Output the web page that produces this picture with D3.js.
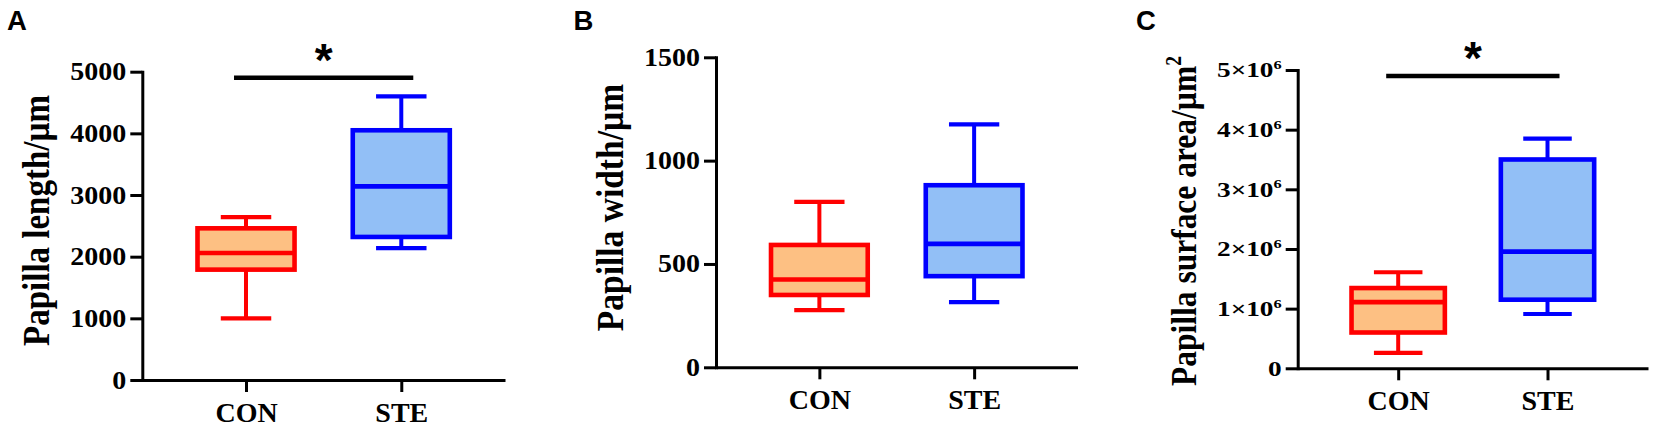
<!DOCTYPE html>
<html><head><meta charset="utf-8">
<script src="https://cdn.jsdelivr.net/npm/d3@7"></script>
<style>body{margin:0;background:#fff}</style>
</head><body><svg id="chart" width="1654" height="431"></svg>
<script>
// ---- data ----
const categories = ["CON", "STE"];
// box stats: [min, Q1, median, Q3, max]
const lengthCON = [1000, 1790, 2060, 2460, 2640];
const lengthSTE = [2140, 2320, 3140, 4050, 4600];
const widthCON = [277, 350, 425, 592, 800];
const widthSTE = [315, 441, 597, 881, 1175];
const areaCON = [0.26e6, 0.60e6, 1.11e6, 1.345e6, 1.61e6];
const areaSTE = [0.91e6, 1.15e6, 1.955e6, 3.50e6, 3.85e6];
const lengthTicks = [0, 1000, 2000, 3000, 4000, 5000];
const widthTicks = [0, 500, 1000, 1500];
const areaTicks = [0, 1e6, 2e6, 3e6, 4e6, 5e6];
const areaTickLabels = ["0", "1×10", "2×10", "3×10", "4×10", "5×10"];
const areaTickSup = ["", "6", "6", "6", "6", "6"];
const panelLetters = ["A", "B", "C"];
const yTitles = ["Papilla length/µm", "Papilla width/µm", "Papilla surface area/µm"];
const yTitleSup = ["", "", "2"];
const sigLabels = ["*", null, "*"];
const sigLevels = [4900, null, 4.9e6];

// ---- styling / layout ----
const fills = {CON: "#FDC083", STE: "#92BFF6"};
const strokes = {CON: "#FF0000", STE: "#0000FF"};
const serif = "'Liberation Serif','Times New Roman',Times,serif";
const sans = "'Liberation Sans',Arial,Helvetica,sans-serif";

const panels = [
  {data: [lengthCON, lengthSTE], ticks: lengthTicks, max: 5000, ax: 142.3, axEnd: 505, yTop: 71.7, yBot: 380,
   pad: 0.668, tickFont: 25, tickSx: 1.12, titleX: 48.5, titleY: 220.5, titleFont: 33, letterX: 7},
  {data: [widthCON, widthSTE], ticks: widthTicks, max: 1500, ax: 716, axEnd: 1077.5, yTop: 57.3, yBot: 367.3,
   pad: 0.668, tickFont: 25, tickSx: 1.12, titleX: 622.5, titleY: 207.5, titleFont: 33.5, letterX: 573.5},
  {data: [areaCON, areaSTE], ticks: areaTicks, max: 5e6, ax: 1297.7, axEnd: 1648, yTop: 70, yBot: 368.3,
   pad: 0.673, tickFont: 21, tickSx: 1.3, titleX: 1196, titleY: 221, titleFont: 31.5, letterX: 1136}
];

const svg = d3.select("#chart");
svg.append("rect").attr("width", 1654).attr("height", 431).attr("fill", "#fff");

panels.forEach((p, i) => {
  const g = svg.append("g");
  const x = d3.scalePoint().domain(categories).range([p.ax, p.axEnd]).padding(p.pad);
  const y = d3.scaleLinear().domain([0, p.max]).range([p.yBot, p.yTop]);
  const boxW = x.step() * 0.625;
  const capW = boxW * 0.52;

  // boxes
  categories.forEach((c, k) => {
    const [mn, q1, md, q3, mx] = p.data[k];
    const cx = x(c);
    const bg = g.append("g").attr("stroke", strokes[c]).attr("fill", "none");
    bg.append("line").attr("x1", cx).attr("x2", cx).attr("y1", y(q3)).attr("y2", y(mx)).attr("stroke-width", 4);
    bg.append("line").attr("x1", cx).attr("x2", cx).attr("y1", y(q1)).attr("y2", y(mn)).attr("stroke-width", 4);
    bg.append("line").attr("x1", cx - capW / 2).attr("x2", cx + capW / 2).attr("y1", y(mx)).attr("y2", y(mx)).attr("stroke-width", 4.2);
    bg.append("line").attr("x1", cx - capW / 2).attr("x2", cx + capW / 2).attr("y1", y(mn)).attr("y2", y(mn)).attr("stroke-width", 4.2);
    bg.append("rect").attr("x", cx - boxW / 2).attr("width", boxW)
      .attr("y", y(q3)).attr("height", y(q1) - y(q3))
      .attr("fill", fills[c]).attr("stroke-width", 4.6);
    bg.append("line").attr("x1", cx - boxW / 2).attr("x2", cx + boxW / 2).attr("y1", y(md)).attr("y2", y(md)).attr("stroke-width", 4.6);
  });

  // y axis
  const yAxis = d3.axisLeft(y).tickValues(p.ticks).tickFormat(d3.format("d"))
    .tickSize(12).tickSizeOuter(0).tickPadding(4);
  const ya = g.append("g").attr("transform", `translate(${p.ax},0)`).call(yAxis);
  ya.select(".domain").attr("stroke", "#000").attr("stroke-width", 3).attr("stroke-linecap", "square");
  ya.selectAll(".tick line").attr("stroke", "#000").attr("stroke-width", 3);
  ya.selectAll(".tick text").each(function(d, j) {
    const t = d3.select(this);
    t.attr("x", null).attr("dy", null).attr("y", 0)
      .attr("transform", `translate(-16,${0.32 * p.tickFont}) scale(${p.tickSx},1)`)
      .attr("font-family", serif).attr("font-weight", "bold").attr("font-size", p.tickFont)
      .attr("fill", "#000").attr("text-anchor", "end");
    if (i === 2) {
      t.text(null);
      t.append("tspan").text(areaTickLabels[j]);
      if (areaTickSup[j]) t.append("tspan").attr("dy", -8.3).attr("font-size", p.tickFont * 0.6).text(areaTickSup[j]);
    }
  });

  // x axis
  const xAxis = d3.axisBottom(x).tickSize(12).tickSizeOuter(0).tickPadding(10);
  const xa = g.append("g").attr("transform", `translate(0,${p.yBot})`).call(xAxis);
  xa.select(".domain").attr("stroke", "#000").attr("stroke-width", 3);
  xa.selectAll(".tick line").attr("stroke", "#000").attr("stroke-width", 3);
  xa.selectAll(".tick text").attr("font-family", serif).attr("font-weight", "bold")
    .attr("font-size", 28).attr("fill", "#000");

  // y title
  const tt = g.append("text")
    .attr("transform", `translate(${p.titleX},${p.titleY}) scale(1.13,1) rotate(-90)`)
    .attr("text-anchor", "middle").attr("font-family", serif).attr("font-weight", "bold")
    .attr("font-size", p.titleFont).attr("fill", "#000");
  tt.append("tspan").text(yTitles[i]);
  if (yTitleSup[i]) tt.append("tspan").attr("dy", -13).attr("font-size", p.titleFont * 0.62).text(yTitleSup[i]);

  // panel letter
  g.append("text").attr("x", p.letterX).attr("y", 29.5).attr("font-family", sans).attr("font-weight", "bold")
    .attr("font-size", 27.5).attr("fill", "#000").text(panelLetters[i]);

  // significance
  if (sigLabels[i]) {
    const x1 = x(categories[0]) - 12, x2 = x(categories[1]) + 12, yy = y(sigLevels[i]);
    g.append("line").attr("x1", x1).attr("x2", x2).attr("y1", yy).attr("y2", yy)
      .attr("stroke", "#000").attr("stroke-width", 4.5);
    g.append("text").attr("x", (x1 + x2) / 2).attr("y", yy - 26 + 24).attr("text-anchor", "middle")
      .attr("font-family", sans).attr("font-weight", "bold").attr("font-size", 46).attr("fill", "#000")
      .text(sigLabels[i]);
  }
});
</script></body></html>
